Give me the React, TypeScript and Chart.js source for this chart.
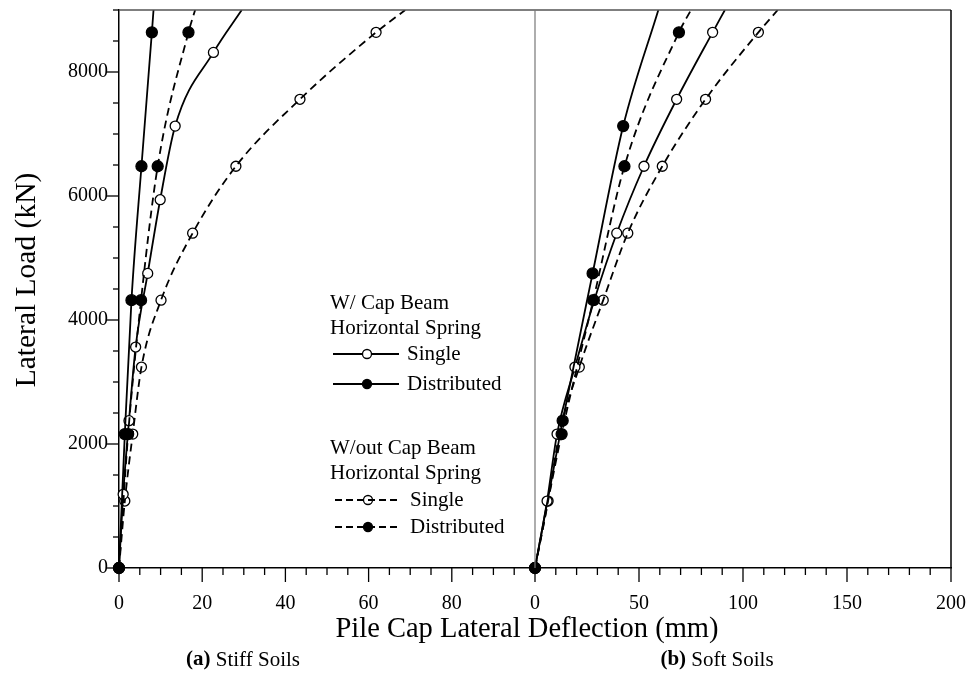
import React, { useEffect, useRef } from "react";
import { Chart, registerables } from "chart.js";

Chart.register(...registerables);

// ---------- axes / tick labels ----------
const LOAD_TOP = 9000;
const LOAD_MINOR_STEP = 500;
const yTickLabels = [0, 2000, 4000, 6000, 8000];
const STIFF_MAX = 100;
const SOFT_MAX = 200;
const STIFF_MINOR_STEP = 5;
const SOFT_MINOR_STEP = 10;
const stiffTickLabels = [0, 20, 40, 60, 80];
const softTickLabels = [0, 50, 100, 150, 200];

// ---------- (a) Stiff Soils ----------
const stiffCapSingleLoad = [0, 1188, 2376, 3564, 4752, 5940, 7128, 8316];
const stiffCapSingleDefl = [0, 1.0, 2.4, 4.0, 6.9, 9.9, 13.5, 22.7];
const stiffCapSingleExit = 29.5;

const stiffCapDistLoad = [0, 2160, 4320, 6480, 8640];
const stiffCapDistDefl = [0, 1.4, 3.0, 5.4, 7.9];
const stiffCapDistExit = 8.3;

const stiffNoCapSingleLoad = [0, 1080, 2160, 3240, 4320, 5400, 6480, 7560, 8640];
const stiffNoCapSingleDefl = [0, 1.4, 3.3, 5.4, 10.1, 17.7, 28.1, 43.5, 61.8];
const stiffNoCapSingleExit = 68.8;

const stiffNoCapDistLoad = [0, 2160, 4320, 6480, 8640];
const stiffNoCapDistDefl = [0, 2.2, 5.3, 9.3, 16.7];
const stiffNoCapDistExit = 18.3;

// ---------- (b) Soft Soils ----------
const softCapSingleLoad = [0, 1080, 2160, 3240, 4320, 5400, 6480, 7560, 8640];
const softCapSingleDefl = [0, 5.8, 10.6, 19.2, 28.5, 39.3, 52.4, 68.1, 85.4];
const softCapSingleExit = 91.3;

const softCapDistLoad = [0, 2376, 4752, 7128];
const softCapDistDefl = [0, 13.3, 27.7, 42.4];
const softCapDistExit = 59.3;

const softNoCapSingleLoad = [0, 1080, 2160, 3240, 4320, 5400, 6480, 7560, 8640];
const softNoCapSingleDefl = [0, 6.3, 11.7, 21.3, 32.8, 44.6, 61.2, 82.0, 107.4];
const softNoCapSingleExit = 116.7;

const softNoCapDistLoad = [0, 2160, 4320, 6480, 8640];
const softNoCapDistDefl = [0, 12.8, 28.0, 43.0, 69.2];
const softNoCapDistExit = 75.0;

const SERIF = '"Liberation Serif", "Times New Roman", serif';

function makeSet(
  label: string,
  loads: number[],
  defl: number[],
  exit: number,
  axis: string,
  dashed: boolean,
  filled: boolean
) {
  const n = loads.length;
  const data = loads.map((y, i) => ({ x: defl[i], y })).concat([{ x: exit, y: LOAD_TOP }]);
  return {
    label,
    data,
    xAxisID: axis,
    yAxisID: "y",
    borderColor: "#000",
    borderWidth: 1.8,
    borderDash: dashed ? [8, 5] : [],
    cubicInterpolationMode: "monotone",
    fill: false,
    clip: { left: 8, right: 8, top: 0, bottom: 8 },
    pointStyle: "circle",
    pointRadius: (c: any) => (c.dataIndex < n ? (filled ? 5.5 : 5) : 0),
    pointBorderWidth: 1.3,
    pointBorderColor: "#000",
    pointBackgroundColor: filled ? "#000" : dashed ? "rgba(0,0,0,0)" : "#fff",
  };
}

function range(a: number, b: number, step: number) {
  const out: number[] = [];
  for (let v = a; v <= b + 1e-9; v += step) out.push(v);
  return out;
}

const decor = {
  id: "decor",
  afterDraw(chart: any) {
    const { ctx, chartArea: ca, scales } = chart;
    const xs = scales.xStiff;
    const xf = scales.xSoft;
    const ys = scales.y;
    const line = (x1: number, y1: number, x2: number, y2: number) => {
      ctx.beginPath();
      ctx.moveTo(x1, y1);
      ctx.lineTo(x2, y2);
      ctx.stroke();
    };
    ctx.save();
    ctx.setLineDash([]);
    ctx.strokeStyle = "#000";
    ctx.lineWidth = 1.3;
    // x tick marks
    xs.ticks.forEach((t: any) => {
      const px = xs.getPixelForValue(t.value);
      const len = t.txt ? 14 : 7;
      line(px, ca.bottom, px, ca.bottom + len);
    });
    // y tick marks
    ys.ticks.forEach((t: any) => {
      const py = ys.getPixelForValue(t.value);
      const len = yTickLabels.includes(t.value) ? 12 : 6;
      line(ca.left - len, py, ca.left, py);
    });
    // frame
    ctx.lineWidth = 1.5;
    ctx.strokeStyle = "#555";
    line(ca.left, ca.top, ca.right, ca.top);
    ctx.strokeStyle = "#000";
    line(ca.right, ca.top, ca.right, ca.bottom);
    // panel divider
    ctx.strokeStyle = "#777";
    ctx.lineWidth = 1.2;
    const dx = xf.getPixelForValue(0);
    line(dx, ca.top, dx, ca.bottom);

    // legend
    ctx.fillStyle = "#000";
    ctx.font = `21px ${SERIF}`;
    ctx.textAlign = "left";
    ctx.textBaseline = "middle";
    ctx.fillText("W/ Cap Beam", 330, 303);
    ctx.fillText("Horizontal Spring", 330, 328);
    ctx.fillText("W/out Cap Beam", 330, 448);
    ctx.fillText("Horizontal Spring", 330, 473);
    const rows = [
      { y: 354, dashed: false, filled: false, text: "Single", tx: 407, mx: 367 },
      { y: 384, dashed: false, filled: true, text: "Distributed", tx: 407, mx: 367 },
      { y: 500, dashed: true, filled: false, text: "Single", tx: 410, mx: 368 },
      { y: 527, dashed: true, filled: true, text: "Distributed", tx: 410, mx: 368 },
    ];
    rows.forEach((r) => {
      ctx.strokeStyle = "#000";
      ctx.lineWidth = 1.8;
      ctx.setLineDash(r.dashed ? [7, 4] : []);
      line(r.dashed ? 335 : 333, r.y, 399, r.y);
      ctx.setLineDash([]);
      ctx.beginPath();
      ctx.arc(r.mx, r.y, 4.5, 0, Math.PI * 2);
      ctx.lineWidth = 1.3;
      if (r.filled) {
        ctx.fillStyle = "#000";
        ctx.fill();
      } else if (!r.dashed) {
        ctx.fillStyle = "#fff";
        ctx.fill();
      }
      ctx.stroke();
      ctx.fillStyle = "#000";
      ctx.fillText(r.text, r.tx, r.y);
    });

    // axis titles
    ctx.textAlign = "center";
    ctx.font = `28.5px ${SERIF}`;
    ctx.fillText("Pile Cap Lateral Deflection (mm)", 527, 630);
    ctx.save();
    ctx.translate(27, 280);
    ctx.rotate(-Math.PI / 2);
    ctx.font = `29.5px ${SERIF}`;
    ctx.fillText("Lateral Load (kN)", 0, 0);
    ctx.restore();

    // captions
    const caption = (cx: number, bold: string, rest: string) => {
      ctx.font = `bold 21px ${SERIF}`;
      const w1 = ctx.measureText(bold).width;
      ctx.font = `21px ${SERIF}`;
      const w2 = ctx.measureText(rest).width;
      const x0 = cx - (w1 + w2) / 2;
      ctx.textAlign = "left";
      ctx.font = `bold 21px ${SERIF}`;
      ctx.fillText(bold, x0, 660);
      ctx.font = `21px ${SERIF}`;
      ctx.fillText(rest, x0 + w1, 660);
    };
    caption(243, "(a)", " Stiff Soils");
    caption(717, "(b)", " Soft Soils");
    ctx.restore();
  },
};

export default function App() {
  const ref = useRef<HTMLCanvasElement>(null);
  useEffect(() => {
    const datasets = [
      makeSet("Stiff W/ Cap Distributed", stiffCapDistLoad, stiffCapDistDefl, stiffCapDistExit, "xStiff", false, true),
      makeSet("Stiff W/out Cap Distributed", stiffNoCapDistLoad, stiffNoCapDistDefl, stiffNoCapDistExit, "xStiff", true, true),
      makeSet("Stiff W/ Cap Single", stiffCapSingleLoad, stiffCapSingleDefl, stiffCapSingleExit, "xStiff", false, false),
      makeSet("Stiff W/out Cap Single", stiffNoCapSingleLoad, stiffNoCapSingleDefl, stiffNoCapSingleExit, "xStiff", true, false),
      makeSet("Soft W/ Cap Distributed", softCapDistLoad, softCapDistDefl, softCapDistExit, "xSoft", false, true),
      makeSet("Soft W/out Cap Distributed", softNoCapDistLoad, softNoCapDistDefl, softNoCapDistExit, "xSoft", true, true),
      makeSet("Soft W/ Cap Single", softCapSingleLoad, softCapSingleDefl, softCapSingleExit, "xSoft", false, false),
      makeSet("Soft W/out Cap Single", softNoCapSingleLoad, softNoCapSingleDefl, softNoCapSingleExit, "xSoft", true, false),
    ];
    const chart = new Chart(ref.current as HTMLCanvasElement, {
      type: "line",
      data: { datasets } as any,
      options: {
        responsive: false,
        animation: false,
        devicePixelRatio: 1,
        layout: { padding: { left: 0, right: 20, top: 10, bottom: 0 } },
        plugins: { legend: { display: false }, tooltip: { enabled: false } },
        scales: {
          xStiff: {
            type: "linear",
            position: "bottom",
            min: 0,
            max: 2 * STIFF_MAX,
            afterFit: (s: any) => {
              s.height = 109;
              s.paddingLeft = 0;
              s.paddingRight = 0;
            },
            afterBuildTicks: (s: any) => {
              const ticks: any[] = [];
              range(0, STIFF_MAX - STIFF_MINOR_STEP, STIFF_MINOR_STEP).forEach((v) =>
                ticks.push({ value: v, txt: stiffTickLabels.includes(v) ? String(v) : "" })
              );
              range(0, SOFT_MAX, SOFT_MINOR_STEP).forEach((v) =>
                ticks.push({
                  value: STIFF_MAX + (v * STIFF_MAX) / SOFT_MAX,
                  txt: softTickLabels.includes(v) ? String(v) : "",
                })
              );
              s.ticks = ticks;
            },
            ticks: {
              autoSkip: false,
              maxRotation: 0,
              padding: 24,
              color: "#000",
              font: { family: SERIF, size: 20 },
              callback: (_v: any, i: number, ticks: any[]) => ticks[i].txt,
            },
            grid: { display: true, drawOnChartArea: false, drawTicks: false },
            border: { display: true, color: "#000", width: 1.5 },
          },
          xSoft: {
            type: "linear",
            display: false,
            position: "bottom",
            min: -SOFT_MAX,
            max: SOFT_MAX,
          },
          y: {
            type: "linear",
            min: 0,
            max: LOAD_TOP,
            afterFit: (s: any) => {
              s.width = 119;
              s.paddingTop = 0;
              s.paddingBottom = 0;
            },
            afterBuildTicks: (s: any) => {
              s.ticks = range(0, LOAD_TOP, LOAD_MINOR_STEP).map((v) => ({ value: v }));
            },
            ticks: {
              autoSkip: false,
              padding: 11,
              color: "#000",
              font: { family: SERIF, size: 20 },
              callback: (v: any) => (yTickLabels.includes(Number(v)) ? String(v) : ""),
            },
            grid: { display: true, drawOnChartArea: false, drawTicks: false },
            border: { display: true, color: "#000", width: 1.5 },
          },
        },
      } as any,
      plugins: [decor],
    });
    return () => chart.destroy();
  }, []);
  return (
    <div style={{ position: "absolute", left: 0, top: 0, width: 971, height: 677, background: "#fff" }}>
      <canvas ref={ref} width={971} height={677} style={{ display: "block" }} />
    </div>
  );
}
